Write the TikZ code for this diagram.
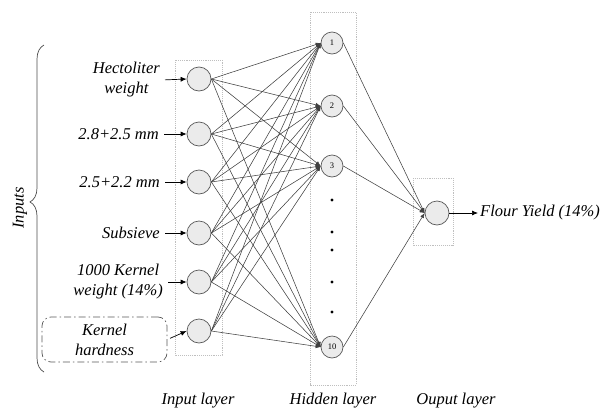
\documentclass[tikz,border=0pt]{standalone}
\usepackage{fontspec}
\setmainfont{Liberation Serif}
\usetikzlibrary{positioning}
\usetikzlibrary{arrows.meta, decorations.pathreplacing}

\begin{document}
\begin{tikzpicture}[x=1pt,y=-1pt]

\tikzset{neuron/.style={
		circle,
		draw=black!65,
		fill=black!8,
		line width=0.7pt,
		minimum size=#1,
		inner sep=0pt,
		font=\fontsize{8.5}{9}\selectfont
	},
	neuron/.default=24pt,
	layer box/.style={draw=black!25, densely dotted, line width=0.9pt},
	label text/.style={font=\fontsize{16.5}{20}\selectfont\itshape, align=center, inner sep=2pt},
	link/.style={draw=black!75, line width=0.55pt, -{Latex[length=5pt,width=4pt]}},
	signal/.style={draw=black, line width=0.7pt, shorten <=3pt, -{Latex[length=6pt,width=5pt]}}
}

\useasboundingbox (0,0) rectangle (616,410);

% layer frames
\draw[layer box] (175,60) rectangle (222,355);
\draw[layer box] (310,12) rectangle (356,385);
\draw[layer box] (413,178) rectangle (453,245);

% neurons
\foreach \y [count=\i] in {79,134,182,233,282,331}
	\node[neuron] (in\i) at (199,\y) {};

\node[neuron=22pt] (h1) at (332,43) {1};
\node[neuron=22pt] (h2) at (332,106) {2};
\node[neuron=22pt] (h3) at (332,166) {3};
\node[neuron=22pt] (h4) at (332,347) {10};
\foreach \y in {200,232,250,282,312}
	\fill (332,\y) circle (1.6pt);

\node[neuron] (out) at (437,213) {};

% weights
\foreach \i in {1,...,6}
	\foreach \j in {1,...,4}
		\draw[link] (in\i.east) -- (h\j.west);
\foreach \j in {1,...,4}
	\draw[link] (h\j.east) -- (out.west);

% inputs
\node[label text, anchor=east] (x1) at (162,80) {Hectoliter\\weight};
\node[label text, anchor=east] (x2) at (161,134) {2.8+2.5 mm};
\node[label text, anchor=east] (x3) at (162,182) {2.5+2.2 mm};
\node[label text, anchor=east] (x4) at (162,233) {Subsieve};
\node[label text, anchor=east] (x5) at (165,282) {1000 Kernel\\weight (14\%)};
\node[label text, draw=black!65, line width=0.7pt,
	dash pattern=on 7pt off 3pt on 1.5pt off 3pt, rounded corners=9pt,
	minimum width=125pt, minimum height=45pt] (x6) at (104.5,339.5) {Kernel\\hardness};
\foreach \i in {1,...,6}
	\draw[signal] (x\i.east) -- (in\i.west);

\draw[decorate, decoration={brace, amplitude=14pt, aspect=0.52},
	draw=black!70, line width=0.7pt] (44,372) -- (44,45);
\node[label text, rotate=90] (inputs) at (20,208) {Inputs};

% output
\node[label text, anchor=west] (y) at (478,213) {Flour Yield (14\%)};
\draw[signal, shorten <=0pt] (out.east) -- (y.west);

% layer names
\node[label text] (t1) at (198,401) {Input layer};
\node[label text] (t2) at (333,401) {Hidden layer};
\node[label text] (t3) at (456,401) {Ouput layer};

\end{tikzpicture}
\end{document}
